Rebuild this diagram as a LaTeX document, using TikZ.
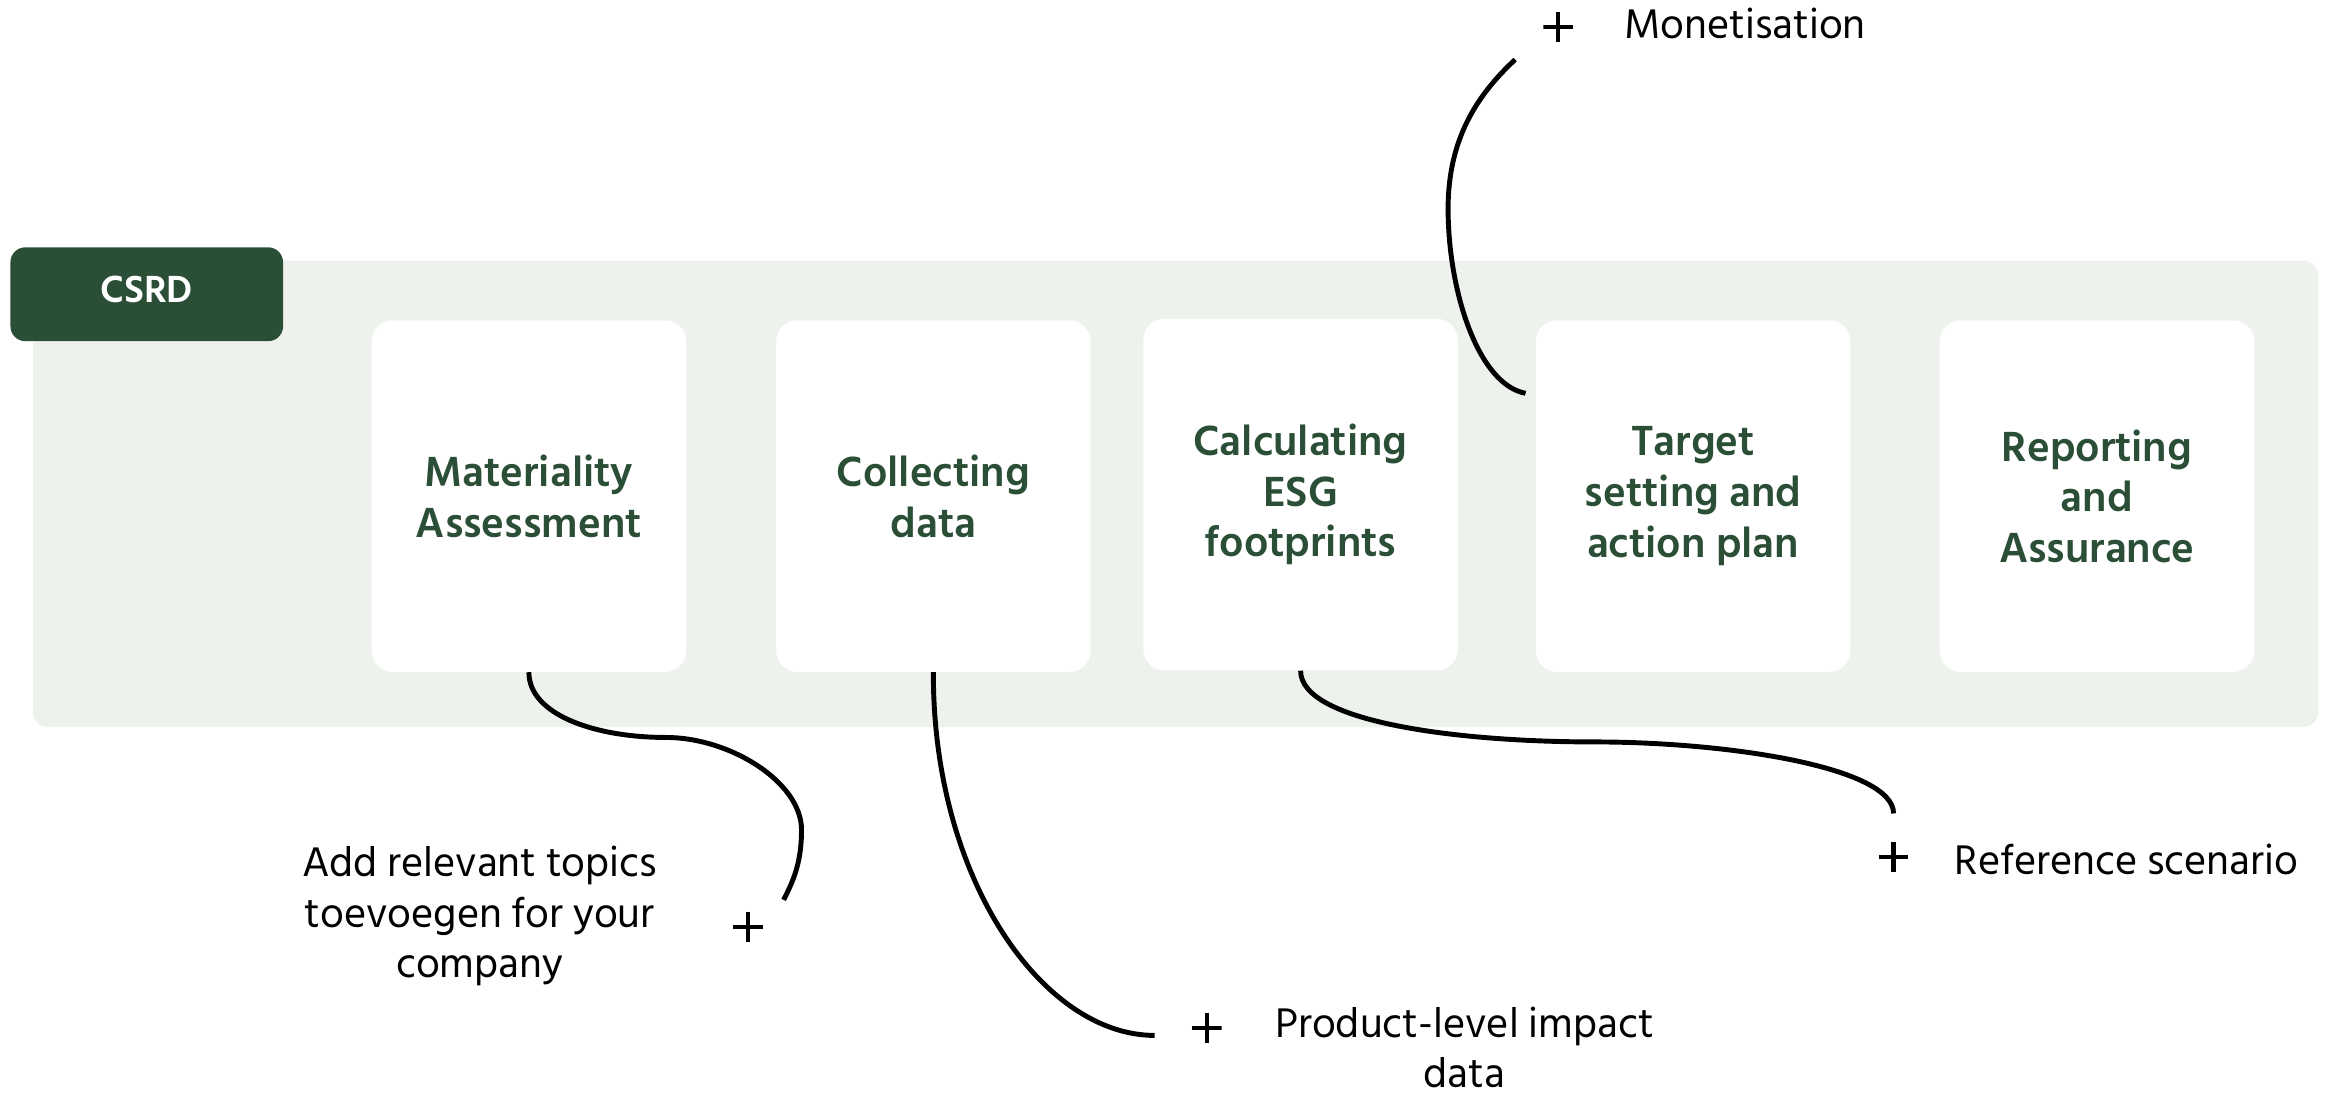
\documentclass[tikz,border=0pt]{standalone}
\usepackage{fontspec}
\setmainfont{Hind Siliguri}
\usetikzlibrary{positioning}
\definecolor{csrdgreen}{HTML}{2B4E36}
\definecolor{panelgrey}{HTML}{EEF2ED}

\tikzset{
  card/.style={fill=white, rounded corners=14pt, minimum width=211pt, minimum height=236pt,
    align=center, text=csrdgreen, font=\fontsize{29}{34}\selectfont\bfseries, inner sep=0pt},
  note/.style={font=\fontsize{28.5}{34}\selectfont, align=center, inner sep=0pt},
  plus/.style={minimum size=20pt, inner sep=0pt,
    path picture={\draw[line width=2.8pt] (path picture bounding box.north) -- (path picture bounding box.south)
      (path picture bounding box.west) -- (path picture bounding box.east);}},
  link/.style={line width=3.3pt, black}
}

\begin{document}
\begin{tikzpicture}[x=1pt, y=-1pt]
  \useasboundingbox (0,0) rectangle (1568,734.3);

  % panel and tab
  \fill[panelgrey, rounded corners=10pt] (22,175) rectangle (1556,488);
  \node[fill=csrdgreen, rounded corners=10pt, minimum width=183pt, minimum height=63pt, inner sep=0pt] (csrd) at (98.5,197.5) {};
  \node[text=white, font=\fontsize{26}{26}\selectfont\bfseries] (csrdtext) at (98.5,194) {CSRD};

  % the five steps
  \node[card] (mat) at (355,333) {Materiality\\Assessment};
  \node[card] (col) at (626.5,333) {Collecting\\data};
  \node[card] (calc) at (873,332) {Calculating\\ESG\\footprints};
  \node[card] (target) at (1136.5,333) {Target\\setting and\\action plan};
  \node[card] (report) at (1407.5,333) {Reporting\\and\\Assurance};

  % extras
  \node[plus] (plusA) at (502,622) {};
  \node[note] (topics) at (322,615) {Add relevant topics\\toevoegen for your\\company};
  \node[plus] (plusB) at (810,690) {};
  \node[note] (impact) at (983,703) {Product-level impact\\data};
  \node[plus] (plusC) at (1271,575) {};
  \node[note, anchor=west] (refscen) at (1312,577) {Reference scenario};
  \node[plus] (plusD) at (1046,18) {};
  \node[note, anchor=west] (monet) at (1090,16) {Monetisation};

  \coordinate (endA) at (526,604);
  \coordinate (endB) at (775,695);
  \coordinate (endC) at (1271,546);
  \coordinate (startD) at (1024,264);
  \coordinate (endD) at (1017,40);

  \draw[link] (mat.south) .. controls (355,480) and (400,495) .. (447,495)
     .. controls (490,495) and (538,525) .. (538,557) .. controls (538,580) and (532,592) .. (endA);
  \draw[link] (col.south) .. controls (626,590) and (700,695) .. (endB);
  \draw[link] (calc.south) .. controls (873,485) and (980,498) .. (1070,498)
     .. controls (1160,498) and (1271,515) .. (endC);
  \draw[link] (startD) .. controls (992,258) and (972,195) .. (972,140)
     .. controls (972,95) and (990,65) .. (endD);
\end{tikzpicture}
\end{document}
